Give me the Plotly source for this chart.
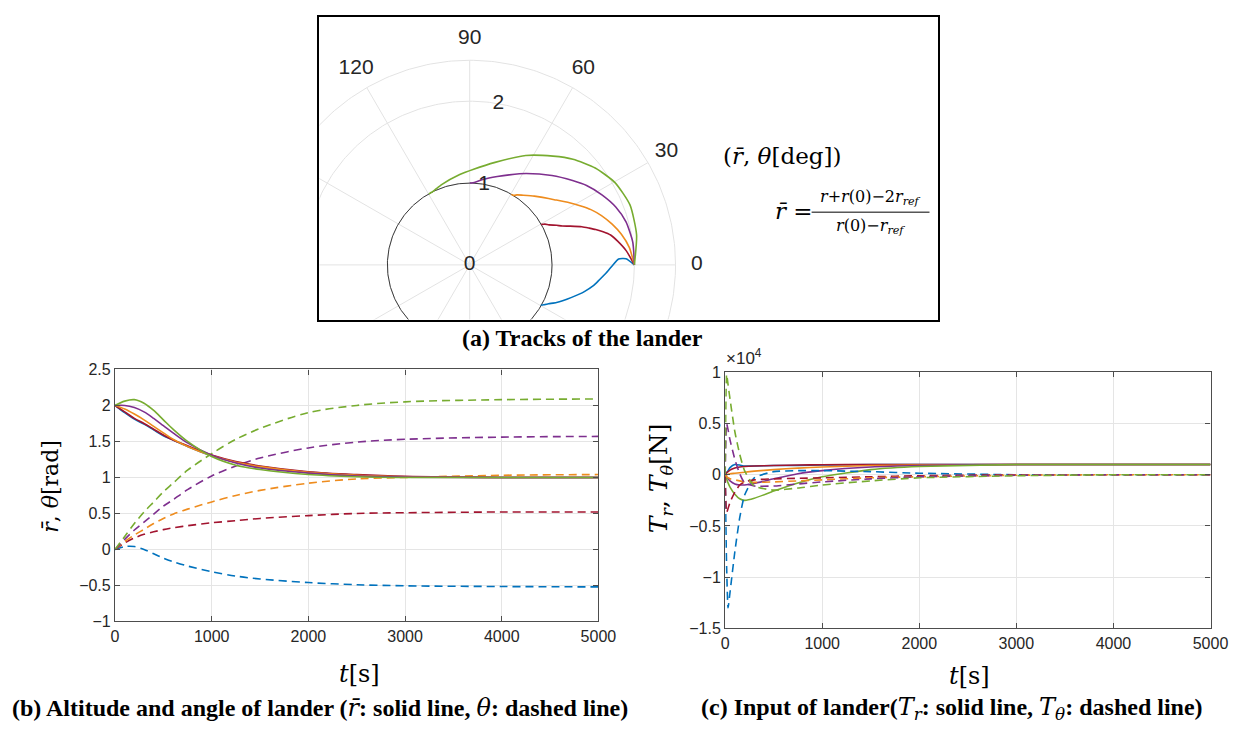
import numpy as np
import plotly.graph_objects as go

W, H = 1257, 734

# ---------------- data ----------------
case_keys = ['blue', 'red', 'orange', 'purple', 'green']
case_colors = ['#0072BD', '#A2142F', '#EE8C1E', '#7E2F8E', '#77AC30']

# (b) altitude r_bar (solid) and angle theta [rad] (dashed); also the polar tracks of (a)
t_b = [0, 100, 200, 300, 400, 500, 600, 750, 1000, 1250, 1500, 2000, 2500, 3000, 4000, 5000]
rbar = {
    'blue':   [2.0, 1.90, 1.81, 1.74, 1.66, 1.58, 1.52, 1.43, 1.30, 1.21, 1.15, 1.07, 1.03, 1.01, 1.0, 1.0],
    'red':    [2.0, 1.91, 1.82, 1.75, 1.67, 1.59, 1.52, 1.44, 1.31, 1.22, 1.16, 1.08, 1.04, 1.015, 1.0, 1.0],
    'orange': [2.0, 1.95, 1.88, 1.80, 1.71, 1.62, 1.53, 1.43, 1.30, 1.21, 1.15, 1.07, 1.03, 1.01, 1.0, 1.0],
    'purple': [2.0, 2.0, 1.97, 1.91, 1.82, 1.72, 1.62, 1.48, 1.31, 1.20, 1.13, 1.06, 1.02, 1.005, 1.0, 1.0],
    'green':  [2.0, 2.06, 2.08, 2.03, 1.93, 1.80, 1.67, 1.50, 1.29, 1.17, 1.11, 1.04, 1.01, 1.0, 1.0, 1.0],
}
theta = {
    'blue':   [0, 0.04, 0.04, 0.0, -0.06, -0.12, -0.17, -0.23, -0.31, -0.37, -0.41, -0.46, -0.49, -0.505, -0.515, -0.52],
    'red':    [0, 0.09, 0.16, 0.21, 0.245, 0.275, 0.30, 0.33, 0.37, 0.40, 0.43, 0.47, 0.50, 0.51, 0.52, 0.52],
    'orange': [0, 0.11, 0.20, 0.28, 0.36, 0.43, 0.49, 0.56, 0.66, 0.75, 0.82, 0.92, 0.98, 1.00, 1.03, 1.04],
    'purple': [0, 0.14, 0.27, 0.38, 0.49, 0.60, 0.69, 0.83, 1.02, 1.16, 1.27, 1.41, 1.49, 1.53, 1.56, 1.57],
    'green':  [0, 0.18, 0.36, 0.52, 0.66, 0.80, 0.92, 1.10, 1.33, 1.53, 1.68, 1.90, 2.00, 2.05, 2.08, 2.09],
}

# (c) inputs T_r (solid) and T_theta (dashed), in units of 1e4 N
t_c = [0, 15, 30, 50, 100, 150, 200, 300, 500, 750, 1000, 1500, 2000, 3000, 4000, 5000]
Tr_e4 = {
    'blue':   [0, 0.02, 0.04, 0.07, 0.10, 0.095, 0.085, 0.085, 0.09, 0.09, 0.095, 0.10, 0.10, 0.10, 0.10, 0.10],
    'red':    [0, 0.02, 0.03, 0.045, 0.065, 0.075, 0.08, 0.085, 0.09, 0.095, 0.097, 0.10, 0.10, 0.10, 0.10, 0.10],
    'orange': [0, 0.0, 0.005, 0.01, 0.015, 0.02, 0.025, 0.035, 0.05, 0.065, 0.075, 0.09, 0.095, 0.10, 0.10, 0.10],
    'purple': [0, -0.02, -0.04, -0.06, -0.09, -0.10, -0.10, -0.085, -0.04, 0.01, 0.04, 0.075, 0.09, 0.10, 0.10, 0.10],
    'green':  [0, -0.04, -0.08, -0.12, -0.19, -0.235, -0.25, -0.23, -0.16, -0.08, -0.02, 0.05, 0.08, 0.10, 0.10, 0.10],
}
Tth_e4 = {
    'blue':   [0, -0.9, -1.3, -1.15, -0.75, -0.42, -0.2, -0.03, 0.03, 0.04, 0.04, 0.03, 0.015, 0.0, 0.0, 0.0],
    'red':    [0, -0.37, -0.33, -0.27, -0.17, -0.10, -0.07, -0.05, -0.04, -0.035, -0.03, -0.02, -0.01, 0.0, 0.0, 0.0],
    'orange': [0, -0.02, -0.03, -0.04, -0.05, -0.06, -0.07, -0.075, -0.07, -0.06, -0.05, -0.03, -0.02, -0.005, 0.0, 0.0],
    'purple': [0, 0.5, 0.44, 0.34, 0.15, 0.01, -0.08, -0.11, -0.11, -0.09, -0.07, -0.04, -0.02, -0.005, 0.0, 0.0],
    'green':  [0, 0.98, 0.88, 0.74, 0.42, 0.2, 0.04, -0.11, -0.15, -0.13, -0.10, -0.06, -0.03, -0.01, 0.0, 0.0],
}

# (a) polar grid and labels
ring_radii = [1, 2, 2.5]
spoke_angles_deg = list(range(0, 360, 30))
angle_labels_deg = [0, 30, 60, 90, 120]
radial_tick_vals = [0, 1, 2]
planet_radius = 1.0

# ---------------- figure ----------------
fig = go.Figure()

def px_x(p):
    return p / W

def px_y(p):
    return 1 - p / H

# panel (b)
for k, c in zip(case_keys, case_colors):
    fig.add_trace(go.Scatter(x=t_b, y=theta[k], mode='lines', xaxis='x', yaxis='y',
                             line=dict(color=c, width=1.6, dash='8px,5px', shape='spline', smoothing=0.9),
                             showlegend=False, hoverinfo='skip'))
for k, c in zip(case_keys, case_colors):
    fig.add_trace(go.Scatter(x=t_b, y=rbar[k], mode='lines', xaxis='x', yaxis='y',
                             line=dict(color=c, width=1.6, shape='spline', smoothing=0.9),
                             showlegend=False, hoverinfo='skip'))

# panel (c)
for k, c in zip(case_keys, case_colors):
    fig.add_trace(go.Scatter(x=t_c, y=Tr_e4[k], mode='lines', xaxis='x2', yaxis='y2',
                             line=dict(color=c, width=1.6, shape='spline', smoothing=0.5),
                             showlegend=False, hoverinfo='skip'))
for k, c in zip(case_keys, case_colors):
    fig.add_trace(go.Scatter(x=t_c, y=Tth_e4[k], mode='lines', xaxis='x2', yaxis='y2',
                             line=dict(color=c, width=1.6, dash='8px,5px', shape='spline', smoothing=0.5),
                             showlegend=False, hoverinfo='skip'))

# panel (a): polar tracks drawn on an equal-scale cartesian frame
phi = np.linspace(0, 2 * np.pi, 361)
r_outer = max(ring_radii)
for rr in ring_radii:
    fig.add_trace(go.Scatter(x=rr * np.cos(phi), y=rr * np.sin(phi), mode='lines', xaxis='x3', yaxis='y3',
                             line=dict(color='#e3e3e3', width=1), showlegend=False, hoverinfo='skip'))
for a in spoke_angles_deg:
    ar = np.deg2rad(a)
    fig.add_trace(go.Scatter(x=[0, r_outer * np.cos(ar)], y=[0, r_outer * np.sin(ar)], mode='lines',
                             xaxis='x3', yaxis='y3', line=dict(color='#e3e3e3', width=1),
                             showlegend=False, hoverinfo='skip'))
fig.add_trace(go.Scatter(x=planet_radius * np.cos(phi), y=planet_radius * np.sin(phi), mode='lines',
                         xaxis='x3', yaxis='y3', line=dict(color='#3a3a3a', width=1),
                         showlegend=False, hoverinfo='skip'))
for k, c in zip(case_keys, case_colors):
    r = np.array(rbar[k])
    th = np.array(theta[k])
    fig.add_trace(go.Scatter(x=r * np.cos(th), y=r * np.sin(th), mode='lines', xaxis='x3', yaxis='y3',
                             line=dict(color=c, width=1.6, shape='spline', smoothing=0.6),
                             showlegend=False, hoverinfo='skip'))
r_lab = 2.76
al = np.deg2rad(angle_labels_deg)
fig.add_trace(go.Scatter(x=r_lab * np.cos(al), y=r_lab * np.sin(al), mode='text',
                         text=[str(a) for a in angle_labels_deg], xaxis='x3', yaxis='y3',
                         textfont=dict(family='Liberation Sans, Arial', size=21, color='#262626'),
                         cliponaxis=False, showlegend=False, hoverinfo='skip'))
ra = np.deg2rad(80)
rv = np.array(radial_tick_vals, dtype=float)
fig.add_trace(go.Scatter(x=rv * np.cos(ra), y=rv * np.sin(ra), mode='text',
                         text=[str(v) for v in radial_tick_vals], xaxis='x3', yaxis='y3',
                         textfont=dict(family='Liberation Sans, Arial', size=21, color='#262626'),
                         cliponaxis=False, showlegend=False, hoverinfo='skip'))

# ---------------- axes ----------------
tickfont = dict(family='Liberation Sans, Arial', size=16, color='#262626')
common = dict(showline=True, linecolor='#4d4d4d', linewidth=1.2, mirror='ticks', ticks='inside',
              ticklen=5, tickcolor='#4d4d4d', showgrid=True, gridcolor='#e5e5e5', gridwidth=1,
              zeroline=False, tickfont=tickfont)

s = 83.8  # pixels per unit in panel (a)
cx, cy = 474, 263
fig.update_layout(
    width=W, height=H, margin=dict(l=0, r=0, t=0, b=0),
    paper_bgcolor='white', plot_bgcolor='white', showlegend=False,
    xaxis=dict(domain=[px_x(113), px_x(605)], range=[0, 5000], dtick=1000, anchor='y', **common),
    yaxis=dict(domain=[px_y(628), px_y(370)], range=[-1, 2.5], dtick=0.5, anchor='x', **common),
    xaxis2=dict(domain=[px_x(734), px_x(1228)], range=[0, 5000], dtick=1000, anchor='y2', **common),
    yaxis2=dict(domain=[px_y(635), px_y(373)], range=[-1.5, 1], dtick=0.5, anchor='x2', **common),
    xaxis3=dict(domain=[px_x(321), px_x(951)], range=[(321 - cx) / s, (951 - cx) / s], anchor='y3',
                showline=True, mirror=True, linecolor='black', linewidth=2, showgrid=False,
                zeroline=False, showticklabels=False, ticks=''),
    yaxis3=dict(domain=[px_y(319), px_y(9)], range=[-(319 - cy) / s, (cy - 9) / s], anchor='x3',
                showline=True, mirror=True, linecolor='black', linewidth=2, showgrid=False,
                zeroline=False, showticklabels=False, ticks=''),
)

serif = 'DejaVu Serif'
ann = []
def add_text(x, y, text, size, family=serif, angle=0, xanchor='center', color='black'):
    ann.append(dict(x=px_x(x), y=px_y(y), xref='paper', yref='paper', text=text, showarrow=False,
                    font=dict(family=family, size=size, color=color), textangle=angle,
                    xanchor=xanchor, yanchor='middle'))

rb = '<i>r\u0304</i>'
add_text(47, 490, rb + ', <i>θ</i>[rad]', 22, angle=-90)
add_text(362, 682, '<i>t</i>[s]', 24)
add_text(668, 481, '<i>T<sub>r</sub></i>, <i>T<sub>θ</sub></i>[N]', 25, angle=-90)
add_text(983, 684, '<i>t</i>[s]', 24)
add_text(733, 357, '×10<sup>4</sup>', 17, family='Liberation Sans, Arial', xanchor='left', color='#262626')

add_text(792, 152, '(' + rb + ', <i>θ</i>[deg])', 23)
add_text(804, 208, rb + ' =', 23)
add_text(882, 194, '<i>r</i>+<i>r</i>(0)−2<i>r<sub>ref</sub></i>', 16)
add_text(882, 224, '<i>r</i>(0)−<i>r<sub>ref</sub></i>', 16)

cap = 'Liberation Serif, Times New Roman'
add_text(589, 338, '<b>(a) Tracks of the lander</b>', 24, family=cap)
add_text(322, 717, '<b>(b) Altitude and angle of lander (</b><span style="font-family:DejaVu Serif"><i>r\u0304</i></span><b>: solid line, </b>'
         '<span style="font-family:DejaVu Serif"><i>θ</i></span><b>: dashed line)</b>', 24, family=cap)
add_text(965, 717, '<b>(c) Input of lander(</b><span style="font-family:DejaVu Serif"><i>T<sub>r</sub></i></span><b>: solid line, </b>'
         '<span style="font-family:DejaVu Serif"><i>T<sub>θ</sub></i></span><b>: dashed line)</b>', 24, family=cap)

fig.update_layout(annotations=ann,
                  shapes=[dict(type='line', xref='paper', yref='paper', x0=px_x(822), x1=px_x(942),
                               y0=px_y(209), y1=px_y(209), line=dict(color='black', width=1))])

fig.write_html('out.html')

with open('out.html', 'r', encoding='utf-8') as f:
    html = f.read()
html = html.replace('<body>', '<body style="margin:0;padding:0;overflow:hidden">', 1)
with open('out.html', 'w', encoding='utf-8') as f:
    f.write(html)
